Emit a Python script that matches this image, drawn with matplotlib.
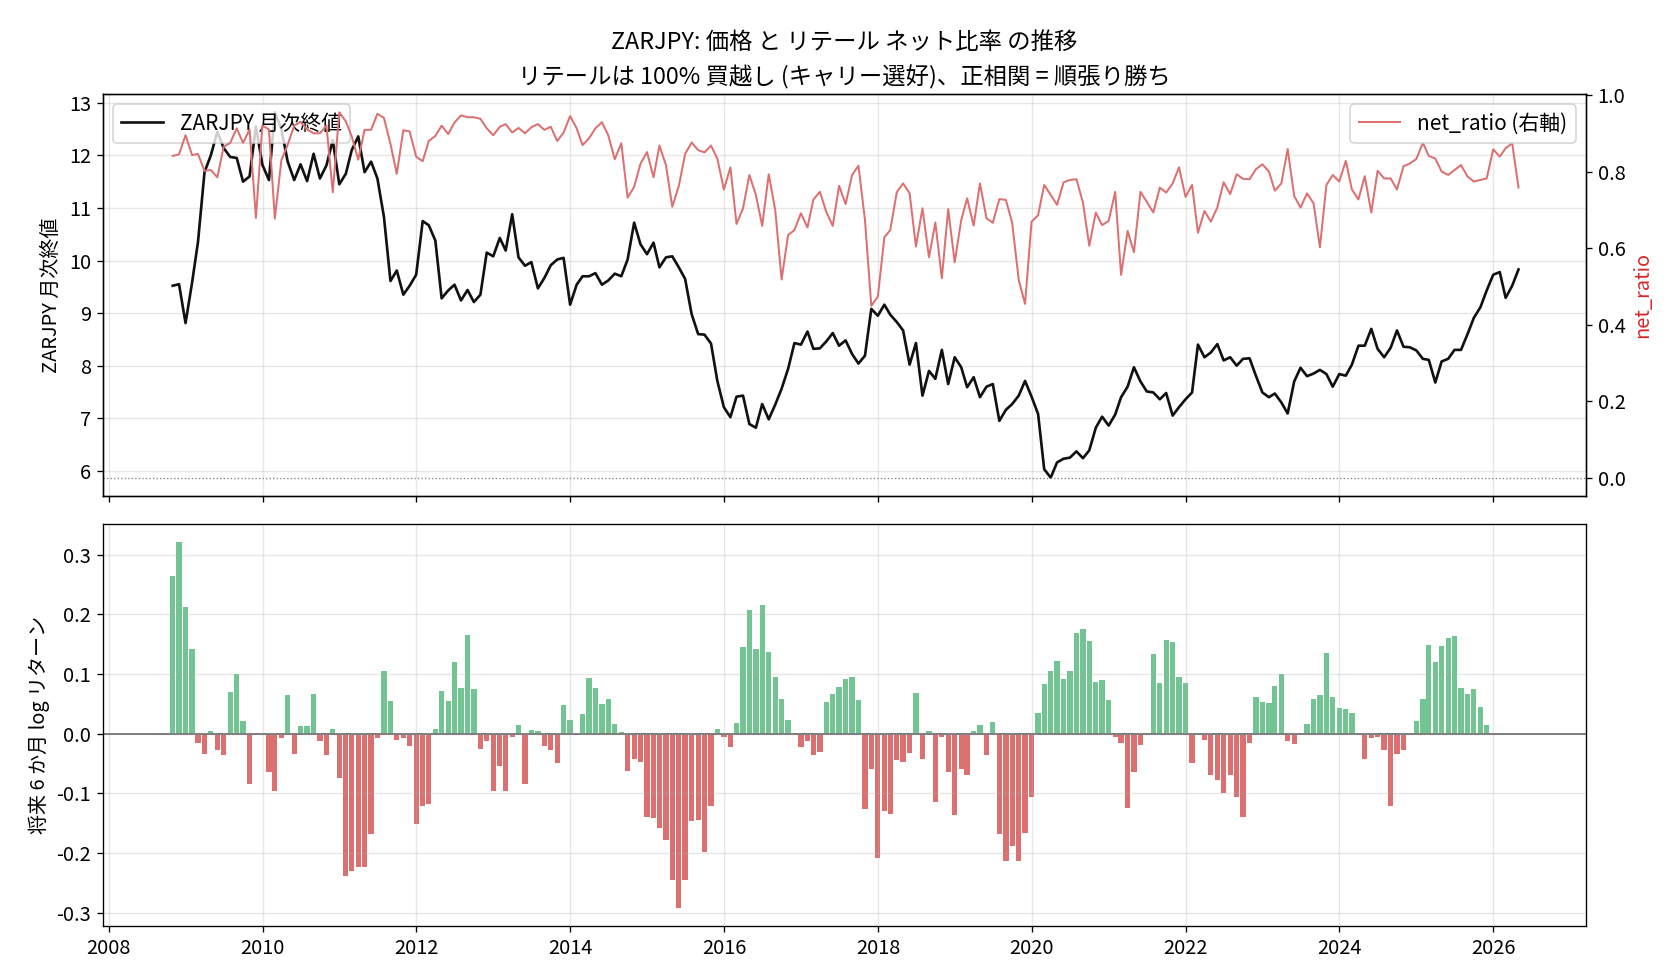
#!/usr/bin/env python3
"""ZARJPY monthly close vs retail net ratio, plus 6M forward log return."""
import numpy as np
import pandas as pd
import matplotlib
matplotlib.use('Agg')
import matplotlib.pyplot as plt

plt.rcParams['font.family'] = ['Noto Sans CJK JP', 'DejaVu Sans']
plt.rcParams['axes.unicode_minus'] = False
plt.rcParams['font.size'] = 12.5
plt.rcParams['axes.labelsize'] = 12
plt.rcParams['xtick.labelsize'] = 12
plt.rcParams['ytick.labelsize'] = 12

# Month-end dates, Oct 2008 .. Apr 2026
dates = pd.date_range('2008-10-31', periods=211, freq='ME')

price = [
    9.52, 9.55, 8.81, 9.58, 10.35, 11.68, 12.00, 12.45, 12.14, 11.97,
    11.95, 11.50, 11.60, 12.55, 11.82, 11.53, 12.82, 12.50, 11.88, 11.53,
    11.83, 11.51, 12.03, 11.56, 11.81, 12.29, 11.45, 11.65, 12.10, 12.36,
    11.68, 11.88, 11.56, 10.83, 9.61, 9.81, 9.35, 9.52, 9.73, 10.75,
    10.67, 10.38, 9.28, 9.43, 9.54, 9.24, 9.44, 9.21, 9.35, 10.15,
    10.08, 10.43, 10.19, 10.88, 10.06, 9.90, 9.97, 9.47, 9.67, 9.91,
    10.02, 10.05, 9.16, 9.54, 9.70, 9.70, 9.76, 9.54, 9.62, 9.75,
    9.70, 10.02, 10.72, 10.31, 10.12, 10.34, 9.87, 10.06, 10.08, 9.87,
    9.65, 8.98, 8.60, 8.59, 8.42, 7.71, 7.21, 7.02, 7.41, 7.43,
    6.89, 6.82, 7.27, 6.98, 7.26, 7.56, 7.94, 8.43, 8.40, 8.65,
    8.32, 8.33, 8.46, 8.62, 8.38, 8.48, 8.22, 8.04, 8.19, 9.08,
    8.95, 9.16, 8.97, 8.83, 8.67, 8.02, 8.43, 7.43, 7.90, 7.75,
    8.30, 7.65, 8.16, 7.97, 7.59, 7.78, 7.40, 7.60, 7.65, 6.95,
    7.16, 7.27, 7.43, 7.71, 7.41, 7.08, 6.03, 5.87, 6.16, 6.23,
    6.25, 6.37, 6.24, 6.39, 6.82, 7.03, 6.86, 7.07, 7.40, 7.60,
    7.97, 7.70, 7.51, 7.49, 7.36, 7.48, 7.05, 7.21, 7.36, 7.49,
    8.40, 8.16, 8.25, 8.41, 8.10, 8.16, 8.00, 8.13, 8.14, 7.81,
    7.49, 7.40, 7.47, 7.30, 7.09, 7.70, 7.96, 7.80, 7.85, 7.92,
    7.84, 7.60, 7.84, 7.81, 8.02, 8.38, 8.38, 8.70, 8.32, 8.16,
    8.34, 8.67, 8.36, 8.35, 8.29, 8.13, 8.11, 7.68, 8.08, 8.13,
    8.30, 8.30, 8.60, 8.91, 9.11, 9.43, 9.73, 9.78, 9.29, 9.52,
    9.83,
]

net_ratio = [
    0.841, 0.845, 0.895, 0.843, 0.846, 0.802, 0.804, 0.785, 0.865, 0.875,
    0.913, 0.875, 0.910, 0.679, 0.920, 0.910, 0.677, 0.830, 0.870, 0.920,
    0.930, 0.910, 0.900, 0.900, 0.920, 0.746, 0.955, 0.931, 0.892, 0.831,
    0.909, 0.909, 0.951, 0.940, 0.872, 0.794, 0.908, 0.905, 0.839, 0.827,
    0.880, 0.893, 0.920, 0.898, 0.928, 0.947, 0.942, 0.942, 0.938, 0.913,
    0.895, 0.917, 0.924, 0.902, 0.914, 0.900, 0.916, 0.924, 0.909, 0.917,
    0.880, 0.902, 0.945, 0.913, 0.869, 0.887, 0.913, 0.929, 0.895, 0.832,
    0.874, 0.732, 0.760, 0.820, 0.851, 0.785, 0.868, 0.817, 0.708, 0.762,
    0.846, 0.876, 0.856, 0.850, 0.868, 0.834, 0.753, 0.811, 0.663, 0.704,
    0.791, 0.739, 0.658, 0.793, 0.699, 0.518, 0.634, 0.647, 0.691, 0.654,
    0.727, 0.747, 0.695, 0.658, 0.763, 0.715, 0.791, 0.815, 0.673, 0.449,
    0.473, 0.628, 0.647, 0.746, 0.769, 0.743, 0.604, 0.704, 0.576, 0.667,
    0.521, 0.702, 0.563, 0.673, 0.730, 0.659, 0.769, 0.678, 0.666, 0.728,
    0.726, 0.666, 0.517, 0.454, 0.669, 0.686, 0.765, 0.739, 0.713, 0.772,
    0.778, 0.780, 0.719, 0.606, 0.693, 0.660, 0.671, 0.747, 0.530, 0.645,
    0.589, 0.747, 0.721, 0.693, 0.758, 0.745, 0.769, 0.811, 0.734, 0.765,
    0.640, 0.697, 0.669, 0.706, 0.772, 0.741, 0.793, 0.781, 0.780, 0.806,
    0.819, 0.800, 0.750, 0.769, 0.859, 0.736, 0.706, 0.743, 0.717, 0.602,
    0.765, 0.791, 0.774, 0.828, 0.753, 0.727, 0.788, 0.693, 0.802, 0.782,
    0.782, 0.753, 0.814, 0.821, 0.833, 0.875, 0.841, 0.834, 0.800, 0.791,
    0.804, 0.817, 0.787, 0.774, 0.778, 0.782, 0.858, 0.839, 0.861, 0.874,
    0.758,
]

# 6-month forward log return (available for the first 206 months)
fwd_ret = [
    0.264, 0.321, 0.212, 0.142, -0.015, -0.034, 0.004, -0.027, -0.035, 0.070,
    0.100, 0.021, -0.084, 0.000, -0.003, -0.064, -0.096, -0.007, 0.065, -0.034,
    0.013, 0.013, 0.066, -0.012, -0.035, 0.008, -0.074, -0.238, -0.231, -0.223,
    -0.223, -0.169, -0.007, 0.105, 0.055, -0.010, -0.007, -0.020, -0.151, -0.122,
    -0.118, 0.008, 0.072, 0.055, 0.120, 0.077, 0.165, 0.075, -0.025, -0.012,
    -0.097, -0.054, -0.096, -0.005, 0.015, -0.084, 0.006, 0.004, -0.020, -0.027,
    -0.050, 0.048, 0.023, 0.000, 0.033, 0.093, 0.077, 0.050, 0.058, 0.016,
    0.003, -0.062, -0.042, -0.047, -0.139, -0.141, -0.158, -0.179, -0.246, -0.292,
    -0.246, -0.147, -0.144, -0.199, -0.122, 0.008, -0.005, -0.022, 0.018, 0.146,
    0.207, 0.142, 0.216, 0.137, 0.095, 0.058, 0.023, -0.001, -0.022, -0.013,
    -0.035, -0.030, 0.053, 0.066, 0.078, 0.092, 0.095, 0.056, -0.126, -0.060,
    -0.209, -0.129, -0.134, -0.044, -0.047, -0.032, 0.068, -0.042, 0.005, -0.114,
    -0.005, -0.065, -0.136, -0.060, -0.070, 0.004, 0.015, -0.035, 0.020, -0.168,
    -0.213, -0.189, -0.213, -0.166, -0.106, 0.035, 0.084, 0.105, 0.122, 0.092,
    0.105, 0.169, 0.175, 0.155, 0.087, 0.090, 0.056, -0.005, -0.016, -0.124,
    -0.064, -0.019, 0.000, 0.134, 0.085, 0.157, 0.154, 0.095, 0.085, -0.049,
    -0.003, -0.010, -0.070, -0.077, -0.099, -0.069, -0.107, -0.139, -0.016, 0.061,
    0.053, 0.051, 0.080, 0.100, -0.013, -0.017, 0.000, 0.016, 0.058, 0.065,
    0.135, 0.061, 0.043, 0.041, 0.035, -0.003, -0.042, -0.007, -0.005, -0.027,
    -0.122, -0.034, -0.027, 0.000, 0.021, 0.058, 0.149, 0.120, 0.147, 0.160,
    0.164, 0.077, 0.066, 0.075, 0.045, 0.015,
]

GREEN = '#72c493'
RED = '#dc7070'

fig, (ax1, ax3) = plt.subplots(2, 1, figsize=(14, 8.1667), dpi=120, sharex=True)
fig.subplots_adjust(left=0.0611, right=0.944, bottom=0.0551, top=0.9041, hspace=0.07)

# Top panel: price (left) + net ratio (right)
ax1.plot(dates, price, color='#111111', lw=1.6, label='ZARJPY 月次終値')
ax1.set_ylabel('ZARJPY 月次終値')
ax1.grid(True, alpha=0.3)
ax1.legend(loc='upper left')

ax2 = ax1.twinx()
ax2.plot(dates, net_ratio, color=RED, lw=1.2, label='net_ratio (右軸)')
ax2.axhline(0, color='gray', ls=':', lw=0.8)
ax2.set_ylabel('net_ratio', color='#d62728')
ax2.legend(loc='upper right')

ax1.set_title('ZARJPY: 価格 と リテール ネット比率 の推移\n'
              'リテールは 100% 買越し (キャリー選好)、正相関 = 順張り勝ち',
              fontsize=14, linespacing=1.55)

# Bottom panel: forward returns
fwd = np.array(fwd_ret)
bar_colors = [GREEN if v >= 0 else RED for v in fwd]
ax3.bar(dates[:len(fwd)], fwd, width=25, color=bar_colors)
ax3.axhline(0, color='gray', lw=1.2)
ax3.set_ylabel('将来 6 か月 log リターン')
ax3.grid(True, alpha=0.3)

plt.savefig('out.png', dpi=120)
print("Saved out.png")
